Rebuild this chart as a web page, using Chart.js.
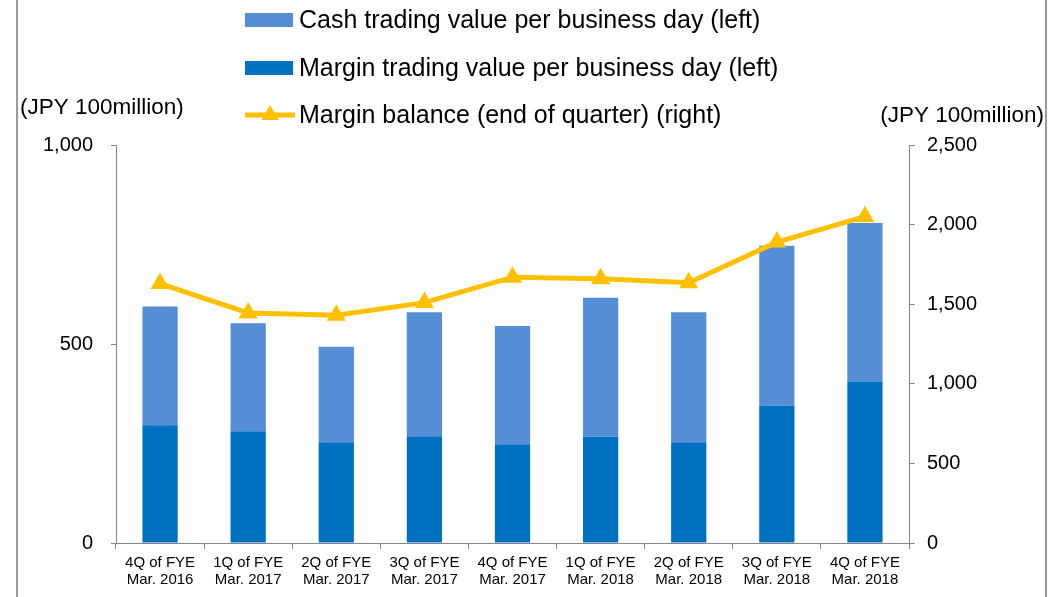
<!DOCTYPE html>
<html>
<head>
<meta charset="utf-8">
<script src="https://cdn.jsdelivr.net/npm/chart.js@4/dist/chart.umd.min.js"></script>
<style>
  html, body { margin: 0; padding: 0; background: #fff; }
  #wrap { width: 1060px; height: 597px; position: relative; }
</style>
</head>
<body>
<div id="wrap"><canvas id="c" width="1060" height="597"></canvas></div>
<script>
const categories = [
  ['4Q of FYE', 'Mar. 2016'],
  ['1Q of FYE', 'Mar. 2017'],
  ['2Q of FYE', 'Mar. 2017'],
  ['3Q of FYE', 'Mar. 2017'],
  ['4Q of FYE', 'Mar. 2017'],
  ['1Q of FYE', 'Mar. 2018'],
  ['2Q of FYE', 'Mar. 2018'],
  ['3Q of FYE', 'Mar. 2018'],
  ['4Q of FYE', 'Mar. 2018']
];
const cashValues = [298, 271, 240, 312, 297, 349, 327, 402, 398];
const marginValues = [296, 281, 253, 268, 248, 267, 253, 345, 406];
const balanceValues = [1630, 1445, 1430, 1510, 1670, 1660, 1635, 1890, 2050];
const leftTicks = [0, 500, 1000];
const rightTicks = [0, 500, 1000, 1500, 2000, 2500];
const axisUnitLabel = '(JPY 100million)';
const seriesLabels = [
  'Cash trading value per business day (left)',
  'Margin trading value per business day (left)',
  'Margin balance (end of quarter) (right)'
];

const CASH = '#558ED5';
const MARGIN = '#0070C0';
const LINE = '#FFC000';
const AXIS = '#868686';
const FONT = '"Liberation Sans", Arial, sans-serif';

const fmt = v => Number(v).toLocaleString('en-US');

const decor = {
  id: 'decor',
  beforeDraw(chart) {
    const ctx = chart.ctx;
    ctx.save();
    ctx.fillStyle = '#ffffff';
    ctx.fillRect(0, 0, chart.width, chart.height);
    ctx.fillStyle = '#9a9a9a';
    ctx.fillRect(16, 0, 2, chart.height);
    ctx.fillRect(1045, 0, 2, chart.height);
    ctx.restore();
  },
  afterDraw(chart) {
    const ctx = chart.ctx;
    ctx.save();
    ctx.fillStyle = '#000';
    ctx.textBaseline = 'middle';
    ctx.font = '22.5px ' + FONT;
    ctx.textAlign = 'left';
    ctx.fillText(axisUnitLabel, 20, 108);
    ctx.textAlign = 'right';
    ctx.fillText(axisUnitLabel, 1044, 116);

    const rows = [
      { label: seriesLabels[0], kind: 'box', color: CASH, y: 20 },
      { label: seriesLabels[1], kind: 'box', color: MARGIN, y: 68 },
      { label: seriesLabels[2], kind: 'line', color: LINE, y: 115 }
    ];
    ctx.font = '25px ' + FONT;
    ctx.textAlign = 'left';
    ctx.textBaseline = 'middle';
    rows.forEach(r => {
      if (r.kind === 'box') {
        ctx.fillStyle = r.color;
        ctx.fillRect(245, r.y - 7, 48, 14);
      } else {
        ctx.strokeStyle = r.color;
        ctx.lineWidth = 5;
        ctx.beginPath();
        ctx.moveTo(245, r.y);
        ctx.lineTo(295, r.y);
        ctx.stroke();
        ctx.fillStyle = r.color;
        const cx = 270, rad = 10;
        ctx.beginPath();
        ctx.moveTo(cx, r.y - rad);
        ctx.lineTo(cx + rad * 0.866, r.y + rad * 0.5);
        ctx.lineTo(cx - rad * 0.866, r.y + rad * 0.5);
        ctx.closePath();
        ctx.fill();
      }
      ctx.fillStyle = '#000';
      ctx.fillText(r.label, 299, r.y + 1);
    });
    ctx.restore();
  }
};

new Chart(document.getElementById('c'), {
  type: 'bar',
  data: {
    labels: categories,
    datasets: [
      {
        type: 'line',
        label: seriesLabels[2],
        data: balanceValues,
        yAxisID: 'y2',
        borderColor: LINE,
        backgroundColor: LINE,
        borderWidth: 5,
        pointStyle: 'triangle',
        pointRadius: 11,
        pointHoverRadius: 11,
        pointBackgroundColor: LINE,
        pointBorderColor: LINE,
        pointBorderWidth: 0,
        tension: 0,
        order: 0
      },
      {
        label: seriesLabels[1],
        data: marginValues,
        backgroundColor: MARGIN,
        yAxisID: 'y',
        stack: 's',
        barPercentage: 0.4,
        categoryPercentage: 1.0,
        order: 1
      },
      {
        label: seriesLabels[0],
        data: cashValues,
        backgroundColor: CASH,
        yAxisID: 'y',
        stack: 's',
        barPercentage: 0.4,
        categoryPercentage: 1.0,
        order: 1
      }
    ]
  },
  options: {
    responsive: false,
    animation: false,
    devicePixelRatio: 1,
    layout: { padding: { top: 145, left: 0, right: 0, bottom: 0 } },
    plugins: {
      legend: { display: false },
      tooltip: { enabled: false }
    },
    scales: {
      x: {
        stacked: true,
        offset: true,
        grid: { drawOnChartArea: false, drawTicks: true, tickLength: 6, color: AXIS, offset: true },
        border: { color: AXIS, width: 1 },
        ticks: {
          color: '#000',
          font: { family: FONT, size: 15, lineHeight: 1.15 },
          padding: 5,
          maxRotation: 0,
          minRotation: 0,
          autoSkip: false
        },
        afterFit(s) { s.height = 54; }
      },
      y: {
        position: 'left',
        stacked: true,
        min: 0,
        max: 1000,
        afterBuildTicks(s) { s.ticks = leftTicks.map(v => ({ value: v })); },
        grid: { drawOnChartArea: false, drawTicks: true, tickLength: 5, color: AXIS },
        border: { color: AXIS, width: 1 },
        ticks: {
          color: '#000',
          font: { family: FONT, size: 20 },
          padding: 18,
          callback: v => fmt(v)
        },
        afterFit(s) { s.width = 116; }
      },
      y2: {
        position: 'right',
        stacked: false,
        min: 0,
        max: 2500,
        afterBuildTicks(s) { s.ticks = rightTicks.map(v => ({ value: v })); },
        grid: { drawOnChartArea: false, drawTicks: true, tickLength: 6, color: AXIS },
        border: { color: AXIS, width: 1 },
        ticks: {
          color: '#000',
          font: { family: FONT, size: 20 },
          padding: 12,
          callback: v => fmt(v)
        },
        afterFit(s) { s.width = 151; }
      }
    }
  },
  plugins: [decor]
});
</script>
</body>
</html>
